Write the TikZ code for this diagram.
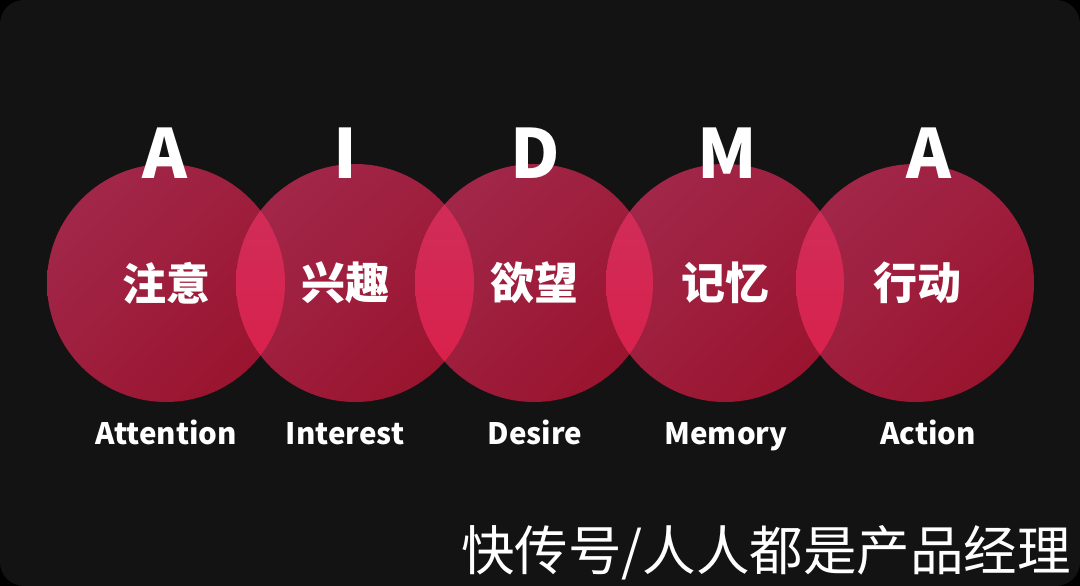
\documentclass[tikz,border=0pt]{standalone}
\usepackage{fontspec}
\setmainfont{Noto Sans CJK SC}
\usetikzlibrary{positioning, shadings}

\definecolor{bgcol}{HTML}{131313}
\definecolor{ballhi}{HTML}{A32A4E}
\definecolor{ballmid}{HTML}{9E1E3D}
\definecolor{balllo}{HTML}{981028}
\definecolor{lenshi}{HTML}{CF2F5D}
\definecolor{lenslo}{HTML}{DA1F48}

\tikzset{
  ball/.style={circle, minimum size=238pt, inner sep=0pt, shade,
    upper left=ballhi, upper right=ballmid, lower left=ballmid, lower right=balllo},
  cn/.style={inner sep=0pt, text=white,
    font=\fontsize{44}{44}\selectfont\bfseries},
  letter/.style={anchor=base, inner sep=0pt, text=white,
    font=\fontsize{68}{68}\selectfont\bfseries},
  engl/.style={anchor=base, inner sep=0pt, text=white,
    font=\fontsize{29.5}{29.5}\selectfont\bfseries},
}

\begin{document}
\begin{tikzpicture}[x=1pt, y=1pt]

\useasboundingbox (0,0) rectangle (1080,586);
\fill[black] (0,0) rectangle (1080,586);
\fill[bgcol, rounded corners=24pt] (0,0) rectangle (1080,586);

% circles
\node[ball] (att) at (166, 303) {};
\node[ball] (int) at (355, 303) {};
\node[ball] (des) at (534, 303) {};
\node[ball] (mem) at (725, 303) {};
\node[ball] (act) at (915, 303) {};

% overlaps
\foreach \a/\b in {att/int, int/des, des/mem, mem/act} {
  \begin{scope}
    \clip (\a.center) circle (119pt);
    \shade[top color=lenshi, bottom color=lenslo] (\b.center) circle (119pt);
  \end{scope}
}

% chinese
\node[cn] (tatt) at (att.center) {注意};
\node[cn] (tint) at ([xshift=-10pt]int.center) {兴趣};
\node[cn] (tdes) at (des.center) {欲望};
\node[cn] (tmem) at (mem.center) {记忆};
\node[cn] (tact) at ([xshift=2pt]act.center) {行动};

% letters
\node[letter] (la1) at (165, 407) {A};
\node[letter] (li)  at (345, 407) {I};
\node[letter] (ld)  at (535, 407) {D};
\node[letter] (lm)  at (727, 407) {M};
\node[letter] (la2) at (929, 407) {A};

% names
\node[engl] (natt) at (166, 141) {Attention};
\node[engl] (nint) at (345, 141) {Interest};
\node[engl] (ndes) at (535, 141) {Desire};
\node[engl] (nmem) at (726, 141) {Memory};
\node[engl] (nact) at (928, 141) {Action};

% mark
\node[anchor=base east, inner sep=0pt, text=white,
  font=\fontsize{53.5}{53.5}\selectfont] (mark) at (1071, 15) {快传号/人人都是产品经理};

\end{tikzpicture}
\end{document}
